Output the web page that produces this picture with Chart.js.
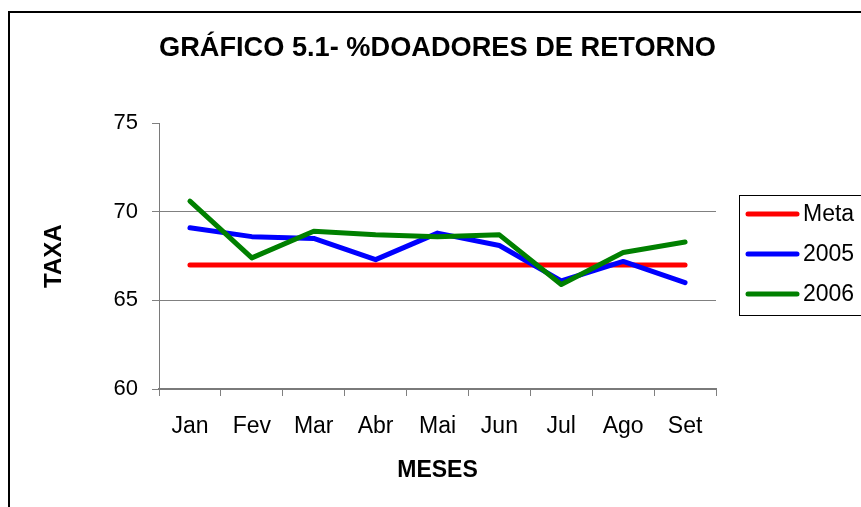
<!DOCTYPE html>
<html>
<head>
<meta charset="utf-8">
<title>Gráfico 5.1</title>
<script src="https://cdn.jsdelivr.net/npm/chart.js@4.4.1/dist/chart.umd.min.js"></script>
<style>
  html, body { margin: 0; padding: 0; background: #fff; }
  canvas { display: block; }
</style>
</head>
<body>
<canvas id="doadoresChart" width="861" height="507"></canvas>
<script>
// Months on the x axis
const months = ['Jan', 'Fev', 'Mar', 'Abr', 'Mai', 'Jun', 'Jul', 'Ago', 'Set'];

// Series values (% returning donors)
const meta = [67, 67, 67, 67, 67, 67, 67, 67, 67];
const taxa2005 = [69.1, 68.6, 68.5, 67.3, 68.8, 68.1, 66.1, 67.2, 66.0];
const taxa2006 = [70.6, 67.4, 68.9, 68.7, 68.6, 68.7, 65.9, 67.7, 68.3];

// Y axis range and step
const yMin = 60;
const yMax = 75;
const yStep = 5;

Chart.defaults.font.family = '"Liberation Sans", Arial, sans-serif';
Chart.defaults.color = '#000';

// White background + outer frame of the picture
const frame = {
    id: 'frame',
    beforeDraw(chart) {
        const c = chart.ctx;
        c.save();
        c.fillStyle = '#fff';
        c.fillRect(0, 0, chart.width, chart.height);
        c.strokeStyle = '#000';
        c.lineWidth = 2;
        c.strokeRect(9, 12, chart.width + 20, chart.height + 20);
        c.restore();
    }
};

// Boxed legend at the right, built from the datasets
const boxLegend = {
    id: 'boxLegend',
    afterDraw(chart) {
        const c = chart.ctx;
        c.save();
        c.strokeStyle = '#000';
        c.lineWidth = 1;
        c.strokeRect(739.5, 195.5, 140, 120);
        c.font = '23px "Liberation Sans", Arial, sans-serif';
        c.textBaseline = 'middle';
        c.fillStyle = '#000';
        chart.data.datasets.forEach((ds, i) => {
            const y = 214 + i * 40;
            c.strokeStyle = ds.borderColor;
            c.lineWidth = 5;
            c.lineCap = 'round';
            c.beginPath();
            c.moveTo(748, y);
            c.lineTo(797, y);
            c.stroke();
            c.fillText(ds.label, 803, y + 1);
        });
        c.restore();
    }
};

const lineStyle = {
    borderWidth: 5,
    pointRadius: 0,
    pointHoverRadius: 0,
    tension: 0,
    borderCapStyle: 'round',
    borderJoinStyle: 'round',
    fill: false
};

new Chart(document.getElementById('doadoresChart'), {
    type: 'line',
    data: {
        labels: months,
        datasets: [
            { label: 'Meta', data: meta, borderColor: '#ff0000', backgroundColor: '#ff0000', order: 3, ...lineStyle },
            { label: '2005', data: taxa2005, borderColor: '#0000ff', backgroundColor: '#0000ff', order: 2, ...lineStyle },
            { label: '2006', data: taxa2006, borderColor: '#008000', backgroundColor: '#008000', order: 1, ...lineStyle }
        ]
    },
    options: {
        responsive: false,
        animation: false,
        layout: { padding: { left: 10, right: 145, top: 12, bottom: 0 } },
        plugins: {
            legend: { display: false },
            tooltip: { enabled: false },
            title: {
                display: true,
                fullSize: false,
                text: 'GRÁFICO 5.1- %DOADORES DE RETORNO',
                color: '#000',
                font: { size: 27.7, weight: 'bold' },
                padding: { top: 20, bottom: 58 }
            }
        },
        scales: {
            x: {
                offset: true,
                grid: { offset: true, drawOnChartArea: false, tickLength: 7, tickColor: '#808080', color: '#808080' },
                border: { color: '#7a7a7a', width: 2 },
                ticks: { color: '#000', font: { size: 23 }, padding: 17, maxRotation: 0, autoSkip: false },
                title: {
                    display: true,
                    text: 'MESES',
                    color: '#000',
                    font: { size: 23, weight: 'bold' },
                    padding: { top: 0, bottom: 23 }
                },
                afterFit(scale) { scale.height = 118; }
            },
            y: {
                min: yMin,
                max: yMax,
                grid: {
                    color: ctx => (ctx.tick && (ctx.tick.value === 70 || ctx.tick.value === 65)) ? '#808080' : 'rgba(0,0,0,0)',
                    tickColor: '#808080',
                    tickLength: 7,
                    lineWidth: 1
                },
                border: { color: '#7a7a7a', width: 1 },
                ticks: { stepSize: yStep, color: '#000', font: { size: 22 }, padding: 14 },
                title: {
                    display: true,
                    text: 'TAXA',
                    color: '#000',
                    font: { size: 24, weight: 'bold' },
                    padding: { top: 30, bottom: 0 }
                },
                afterFit(scale) { scale.width = 149; }
            }
        }
    },
    plugins: [frame, boxLegend]
});
</script>
</body>
</html>
